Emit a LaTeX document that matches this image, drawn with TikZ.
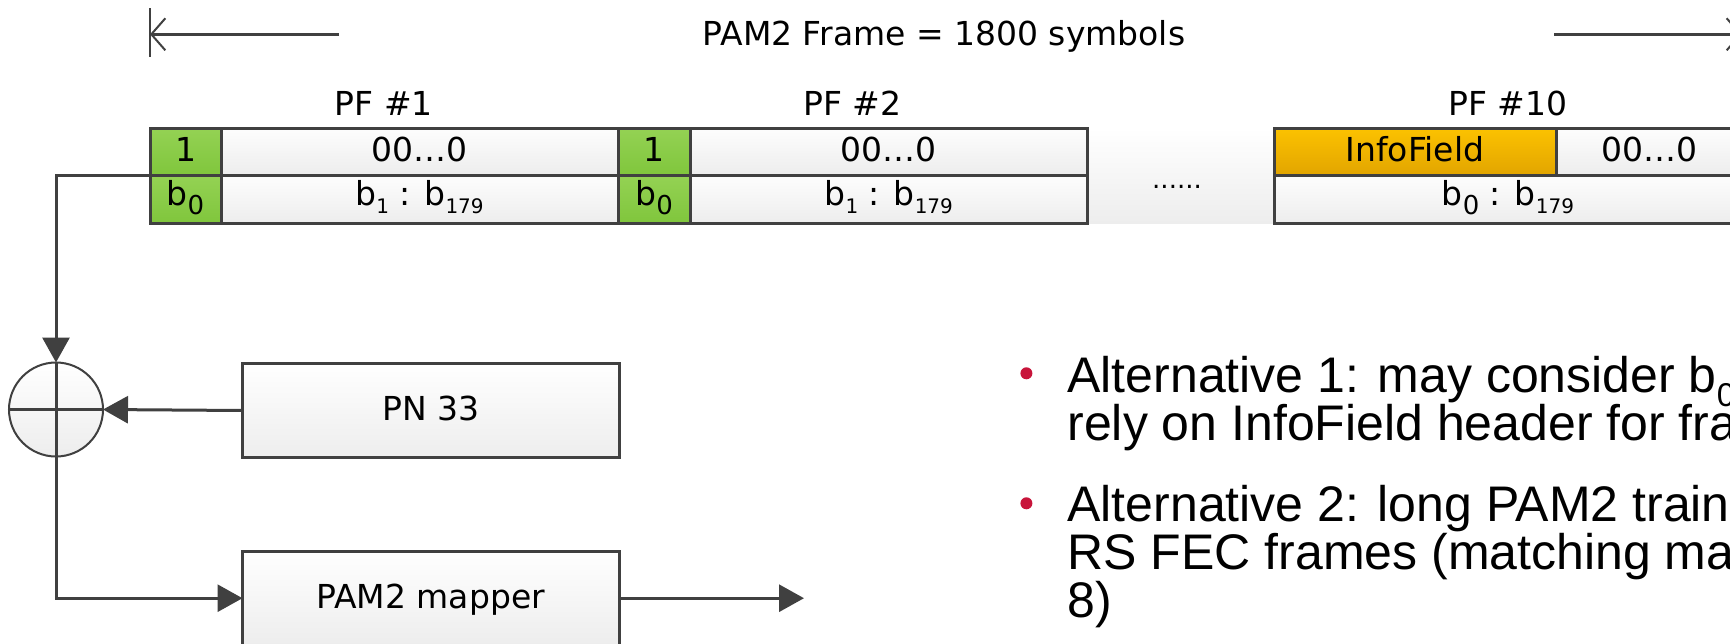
\documentclass[tikz,border=0pt]{standalone}
\usepackage{fontspec}
\setmainfont{DejaVu Sans}
\newfontfamily\bulletfont{Liberation Sans}
\usetikzlibrary{arrows.meta}
\definecolor{dg}{HTML}{404040}
\definecolor{gtop}{HTML}{94D254}
\definecolor{gbot}{HTML}{80C63C}
\definecolor{otop}{HTML}{FCC200}
\definecolor{obot}{HTML}{E2A500}
\definecolor{wtop}{HTML}{FDFDFD}
\definecolor{wbot}{HTML}{EDEDED}
\definecolor{bred}{HTML}{C8143A}
\newcommand{\mysub}[3]{\raisebox{-#1pt}{\fontsize{#2}{#2}\selectfont #3}}
\begin{document}
\begin{tikzpicture}[x=1pt,y=-1pt,
  lbl/.style={font=\fontsize{33}{33}\selectfont, inner sep=0pt, outer sep=0pt},
  cellbase/.style={draw=dg, line width=3pt, inner sep=0pt, outer sep=0pt,
    font=\fontsize{33}{33}\selectfont, text height=24pt},
  cellw/.style={cellbase, top color=wtop, bottom color=wbot},
  cellg/.style={cellbase, top color=gtop, bottom color=gbot},
  cello/.style={cellbase, top color=otop, bottom color=obot},
  rowa/.style={minimum height=47pt, text depth=4pt},
  rowb/.style={minimum height=48pt, text depth=12pt},
  blockbox/.style={draw=dg, line width=3pt, top color=white, bottom color=wbot,
    minimum width=376.5pt, minimum height=94.4pt, inner sep=0pt, outer sep=0pt,
    font=\fontsize{33}{33}\selectfont, text height=24pt, text depth=4pt},
  flow/.style={draw=dg, line width=3pt, -{Triangle[length=25pt,width=27pt]}},
  plainline/.style={draw=dg, line width=3pt},
  dimline/.style={draw=dg, line width=2.5pt, -{Straight Barb[length=14pt,width=32pt,line width=2pt]}},
  dimbar/.style={draw=dg, line width=2pt},
  btext/.style={font=\bulletfont\fontsize{50}{50}\selectfont, inner sep=0pt, outer sep=0pt},
  bdot/.style={circle, fill=bred, minimum size=12pt, inner sep=0pt}
]
\useasboundingbox (0,0) rectangle (1730,643);
\clip (0,0) rectangle (1730,643);
\fill[white] (0,0) rectangle (1730,643);

% dimension line
\node[lbl, anchor=base] (title) at (944,45.7) {PAM2 Frame = 1800 symbols};
\coordinate (dl) at (150,34.3);
\coordinate (dlend) at (339,34.3);
\coordinate (dr) at (1742,34.3);
\coordinate (drend) at (1554,34.3);
\coordinate (dlt) at (150,8.3);
\coordinate (dlb) at (150,57.3);
\coordinate (drt) at (1742,8.3);
\coordinate (drb) at (1742,57.3);
\draw[dimline] (dlend) -- (dl);
\draw[dimline] (drend) -- (dr);
\draw[dimbar] (dlt) -- (dlb);
\draw[dimbar] (drt) -- (drb);

% PF labels
\node[lbl, anchor=base] (pf1) at (384,115) {PF \#1};
\node[lbl, anchor=base] (pf2) at (852.5,115) {PF \#2};
\node[lbl, anchor=base] (pf10) at (1508,115) {PF \#10};

% gap background
\node[top color=white, bottom color=wbot, minimum width=187pt, minimum height=95pt,
  inner sep=0pt, outer sep=0pt] (gap) at (1180.5,175.5) {};
\node[lbl, anchor=base, font=\fontsize{26}{26}\selectfont] (dots) at (1177,188) {......};

% PF1
\node[cellg, rowa, minimum width=71pt] (g1t) at (185.5,151.5) {1};
\node[cellw, rowa, minimum width=397pt] (w1t) at (419.5,151.5) {00…0};
\node[cellg, rowb, minimum width=71pt] (g1b) at (185.5,199) {b\mysub{9}{26}{0}};
\node[cellw, rowb, minimum width=397pt] (w1b) at (419.5,199) {b\mysub{8}{20}{1} : b\mysub{8}{20}{179}};
% PF2
\node[cellg, rowa, minimum width=72.5pt] (g2t) at (654.25,151.5) {1};
\node[cellw, rowa, minimum width=396.5pt] (w2t) at (888.75,151.5) {00…0};
\node[cellg, rowb, minimum width=72.5pt] (g2b) at (654.25,199) {b\mysub{9}{26}{0}};
\node[cellw, rowb, minimum width=396.5pt] (w2b) at (888.75,199) {b\mysub{8}{20}{1} : b\mysub{8}{20}{179}};
% PF10
\node[cello, rowa, minimum width=282pt] (inf) at (1415,151.5) {InfoField};
\node[cellw, rowa, minimum width=186pt] (z10) at (1649,151.5) {00…0};
\node[cellw, rowb, minimum width=468pt] (b10) at (1508,199) {b\mysub{9}{26}{0} : b\mysub{8}{20}{179}};

% scrambler
\node[draw=dg, line width=2pt, circle, minimum size=94pt, inner sep=0pt, outer sep=0pt,
  top color=white, bottom color=wbot] (xor) at (56,409.5) {};
\draw[plainline] (xor.west) -- (xor.east);
\draw[plainline] (xor.north) -- (xor.south);
\node[blockbox] (pn) at (430.75,410.5) {PN 33};
\node[blockbox] (map) at (430.75,598.2) {PAM2 mapper};
\coordinate (out) at (804,598.2);

\draw[flow] (g1b.north west) -| (xor.north);
\draw[flow] (pn.west) -- (xor.east);
\draw[flow] (xor.south) |- (map.west);
\draw[flow] (map.east) -- (out);

% bullets
\node[bdot] (bul1) at (1026.4,373.3) {};
\node[bdot] (bul2) at (1026.4,503.3) {};
\node[btext, anchor=base west] (t1a) at (1067.5,392.3) {Alternative 1: may consider b\mysub{14}{33}{0}};
\node[btext, anchor=base west] (t1b) at (1067.5,440) {rely on InfoField header for fra};
\node[btext, anchor=base west] (t2a) at (1067.5,521) {Alternative 2: long PAM2 train};
\node[btext, anchor=base west] (t2b) at (1067.5,569.3) {RS FEC frames (matching ma};
\node[btext, anchor=base west] (t2c) at (1067.5,617.3) {8)};
\end{tikzpicture}
\end{document}
